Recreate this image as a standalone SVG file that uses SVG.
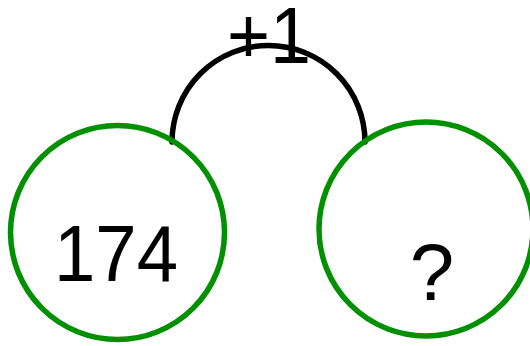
<svg xmlns="http://www.w3.org/2000/svg" width="530" height="346" viewBox="0 0 530 346">
<style>
.c{fill:none;stroke:#009000;stroke-width:5.5}
.t{font-family:"Liberation Sans",Arial,sans-serif;font-size:80px;fill:#000;text-anchor:middle}
.a{fill:none;stroke:#000;stroke-width:5.5;stroke-linecap:round}
</style>
<rect width="530" height="346" fill="#fff"/>
<g id="connectors">
<path class="a" d="M172,142 A96.5,96.5 0 0 1 365,142"/>
<text class="t" x="269" y="63" textLength="84" lengthAdjust="spacingAndGlyphs">+1</text>
</g>
<g id="node-left">
<circle class="c" cx="117.5" cy="232.5" r="107"/>
<text class="t" x="116" y="281" textLength="124" lengthAdjust="spacingAndGlyphs">174</text>
</g>
<g id="node-right">
<circle class="c" cx="426" cy="229" r="107"/>
<text class="t" x="432" y="300">?</text>
</g>
</svg>
